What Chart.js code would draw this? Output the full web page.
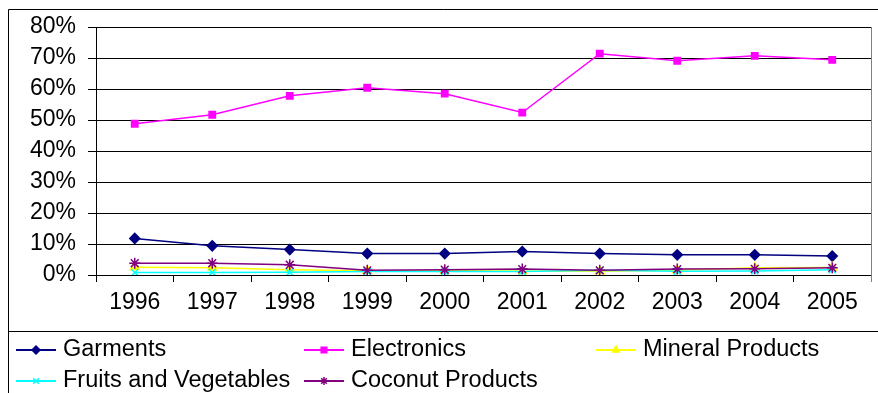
<!DOCTYPE html>
<html>
<head>
<meta charset="utf-8">
<script src="https://cdn.jsdelivr.net/npm/chart.js@4/dist/chart.umd.min.js"></script>
<style>
  html, body { margin: 0; padding: 0; background: #fff; }
  #wrap { width: 878px; height: 393px; position: relative; }
</style>
</head>
<body>
<div id="wrap"><canvas id="c" width="878" height="393"></canvas></div>
<script>
// Export shares by product group, percent of total exports
const years = ['1996', '1997', '1998', '1999', '2000', '2001', '2002', '2003', '2004', '2005'];
const garments    = [11.8, 9.4, 8.2, 6.9, 6.9, 7.6, 6.9, 6.5, 6.5, 6.1];
const electronics = [48.8, 51.7, 57.8, 60.4, 58.5, 52.4, 71.4, 69.1, 70.7, 69.4];
const minerals    = [2.5, 2.3, 1.7, 1.4, 1.4, 1.3, 1.2, 1.5, 2.3, 2.4];
const fruitsVeg   = [0.8, 0.8, 0.9, 1.1, 1.1, 1.1, 1.5, 1.2, 1.3, 1.7];
const coconut     = [3.8, 3.8, 3.3, 1.5, 1.7, 1.9, 1.5, 1.9, 2.0, 2.3];
const yTicks      = [0, 10, 20, 30, 40, 50, 60, 70, 80];

const seriesNames = ['Garments', 'Electronics', 'Mineral Products', 'Fruits and Vegetables', 'Coconut Products'];
const seriesData  = [garments, electronics, minerals, fruitsVeg, coconut];
const colors      = ['#000080', '#FF00FF', '#FFFF00', '#00FFFF', '#800080'];
const styles      = ['rectRot', 'rect', 'triangle', 'crossRot', 'star'];
const radii       = [5, 4.5, 5, 5, 5.5];

const tickFont = { family: '"Liberation Sans", Arial, sans-serif', size: 23 };

const datasets = seriesNames.map((name, i) => ({
  label: name,
  data: seriesData[i],
  borderColor: colors[i],
  backgroundColor: colors[i],
  pointBorderColor: colors[i],
  pointBackgroundColor: colors[i],
  pointStyle: styles[i],
  pointRadius: radii[i],
  pointBorderWidth: 1.5,
  borderWidth: 1.5,
  tension: 0,
  order: seriesNames.length - 1 - i
}));

// Frame lines and the boxed legend underneath the plot
const framePlugin = {
  id: 'frameAndLegend',
  afterDraw(chart) {
    const ctx = chart.ctx;
    const area = chart.chartArea;
    ctx.save();
    ctx.strokeStyle = '#000';
    ctx.lineWidth = 1;
    // outer frame
    ctx.beginPath();
    ctx.moveTo(8.5, 400);
    ctx.lineTo(8.5, 9.5);
    ctx.lineTo(880, 9.5);
    ctx.stroke();
    // legend separator
    ctx.beginPath();
    ctx.moveTo(8.5, 331.5);
    ctx.lineTo(880, 331.5);
    ctx.stroke();
    // plot right border
    ctx.strokeStyle = '#808080';
    ctx.beginPath();
    ctx.moveTo(Math.round(area.right) + 0.5, area.top);
    ctx.lineTo(Math.round(area.right) + 0.5, area.bottom + 7);
    ctx.stroke();

    // legend entries
    const cols = [16, 304, 596];
    const rows = [350, 381];
    chart.data.datasets.forEach((ds, i) => {
      const x = cols[i % 3];
      const y = rows[Math.floor(i / 3)];
      ctx.strokeStyle = ds.borderColor;
      ctx.lineWidth = 2;
      ctx.beginPath();
      ctx.moveTo(x, y);
      ctx.lineTo(x + 40, y);
      ctx.stroke();
      ctx.fillStyle = ds.backgroundColor;
      ctx.strokeStyle = ds.borderColor;
      ctx.lineWidth = 1.5;
      Chart.helpers.drawPoint(ctx, { pointStyle: ds.pointStyle, rotation: 0, radius: 4, borderWidth: 1.5 }, x + 20, y);
      ctx.fillStyle = '#000';
      ctx.font = '23.5px "Liberation Sans", Arial, sans-serif';
      ctx.textBaseline = 'middle';
      ctx.textAlign = 'left';
      ctx.fillText(ds.label, x + 47, y);
    });
    ctx.restore();
  }
};

new Chart(document.getElementById('c'), {
  type: 'line',
  data: { labels: years, datasets },
  options: {
    responsive: false,
    animation: false,
    devicePixelRatio: 1,
    layout: { padding: { top: 27, right: 1, bottom: 61, left: 0 } },
    plugins: {
      legend: { display: false },
      tooltip: { enabled: false }
    },
    scales: {
      x: {
        offset: true,
        grid: {
          offset: true,
          drawOnChartArea: false,
          drawTicks: true,
          tickLength: 7,
          color: '#000',
          lineWidth: 1
        },
        border: { display: true, color: '#000', width: 1 },
        ticks: {
          color: '#000',
          font: tickFont,
          padding: 7,
          maxRotation: 0,
          autoSkip: false
        },
        afterFit(scale) { scale.height = 57; }
      },
      y: {
        min: yTicks[0],
        max: yTicks[yTicks.length - 1],
        afterBuildTicks(scale) { scale.ticks = yTicks.map(v => ({ value: v })); },
        grid: {
          color: '#000',
          lineWidth: 1,
          drawTicks: true,
          tickLength: 8
        },
        border: { display: true, color: '#000', width: 1 },
        ticks: {
          color: '#000',
          font: tickFont,
          padding: 12,
          callback: v => v + '%'
        },
        afterFit(scale) { scale.width = 96; }
      }
    }
  },
  plugins: [framePlugin]
});
</script>
</body>
</html>
